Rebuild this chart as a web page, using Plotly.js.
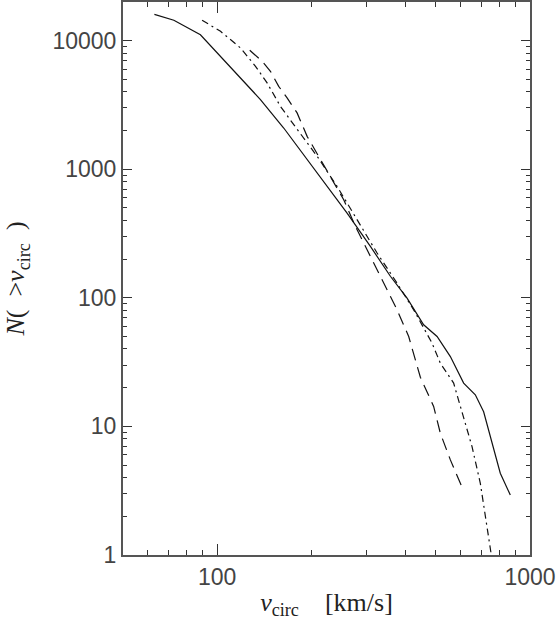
<!DOCTYPE html>
<html>
<head>
<meta charset="utf-8">
<script src="https://cdn.plot.ly/plotly-3.0.1.min.js"></script>
<style>
  html, body { margin: 0; padding: 0; background: #fff; }
  #chart { width: 558px; height: 628px; }
</style>
</head>
<body>
<div id="chart"></div>
<script>
// cumulative counts N(>v_circ)
const solidV = [63.0, 72.7, 88.4, 100, 118.7, 137.5, 163.2, 208.7, 260.2, 308.9, 357.8, 404.6, 457.1, 504.6, 556.5, 613.6, 668.6, 710.9, 756.1, 803.6, 865.0];
const solidN = [16000, 14400, 11100, 8020, 5130, 3480, 2090, 934, 456, 251, 147, 99.5, 61.7, 50.0, 34.9, 21.7, 17.6, 13.0, 7.40, 4.32, 2.93];

const dashDotV = [89.5, 102.5, 118.7, 132.6, 144.4, 159.3, 175.7, 208.7, 241.7, 280.2, 324.5, 375.9, 424.8, 486.4, 516.9, 570.1, 613.6, 652.7, 693.8, 728.8, 752.2];
const dashDotN = [14400, 11800, 8770, 6310, 4690, 3080, 2220, 1260, 735, 405, 223, 130, 80.6, 44.4, 31.0, 21.7, 11.9, 6.96, 3.61, 1.66, 1.0];

const dashedV = [127.1, 139.3, 148.0, 157.3, 167.3, 180.1, 193.9, 230.1, 253.8, 276.6, 308.9, 340.7, 375.9, 409.5, 446.2, 492.0, 516.9, 556.5, 613.6];
const dashedN = [8400, 6900, 5770, 4410, 3580, 2740, 1800, 879, 579, 359, 210, 130, 80.6, 50.0, 24.1, 14.3, 8.85, 5.49, 3.15];

const xMajor = [100, 1000];
const xMinor = [60, 70, 80, 90, 200, 300, 400, 500, 600, 700, 800, 900];
const yMajor = [1, 10, 100, 1000, 10000];
const yMinor = [2, 3, 4, 5, 6, 7, 8, 9, 20, 30, 40, 50, 60, 70, 80, 90,
  200, 300, 400, 500, 600, 700, 800, 900, 2000, 3000, 4000, 5000, 6000, 7000, 8000, 9000];

const lineStyle = (dash) => ({ color: '#111', width: 1.2, dash: dash });

const data = [
  { x: solidV, y: solidN, mode: 'lines', line: lineStyle('solid') },
  { x: dashDotV, y: dashDotN, mode: 'lines', line: lineStyle('7px,4px,2px,4px') },
  { x: dashedV, y: dashedN, mode: 'lines', line: lineStyle('12px,7px') }
];

const tickFont = { family: 'Liberation Sans', size: 23, color: '#444' };
const titleFont = { family: 'Liberation Serif', size: 26, color: '#222' };

const layout = {
  width: 558,
  height: 628,
  margin: { l: 123, r: 28, t: 2, b: 73 },
  paper_bgcolor: '#fff',
  plot_bgcolor: '#fff',
  showlegend: false,
  xaxis: {
    type: 'log',
    range: [Math.log10(50), 3],
    showgrid: false,
    zeroline: false,
    showline: true,
    linecolor: '#555',
    linewidth: 2,
    mirror: 'allticks',
    ticks: 'inside',
    ticklen: 11,
    tickwidth: 1,
    tickcolor: '#333',
    tickmode: 'array',
    tickvals: xMajor,
    ticktext: xMajor.map(String),
    tickfont: tickFont,
    minor: { tickmode: 'array', tickvals: xMinor, ticks: 'inside', ticklen: 5, tickcolor: '#333', showgrid: false },
    title: { text: '<i>v</i><sub>circ</sub>    [km/s]', font: titleFont, standoff: 4 }
  },
  yaxis: {
    type: 'log',
    range: [0, 4.3],
    showgrid: false,
    zeroline: false,
    showline: true,
    linecolor: '#555',
    linewidth: 2,
    mirror: 'allticks',
    ticks: 'inside',
    ticklen: 9,
    tickwidth: 1,
    tickcolor: '#333',
    tickmode: 'array',
    tickvals: yMajor,
    ticktext: yMajor.map(String),
    tickfont: tickFont,
    minor: { tickmode: 'array', tickvals: yMinor, ticks: 'inside', ticklen: 4, tickcolor: '#333', showgrid: false },
    title: { text: '<i>N</i>(  &gt;<i>v</i><sub>circ</sub>  )', font: titleFont, standoff: 20 }
  }
};

Plotly.newPlot('chart', data, layout, { displayModeBar: false, staticPlot: true });
</script>
</body>
</html>
